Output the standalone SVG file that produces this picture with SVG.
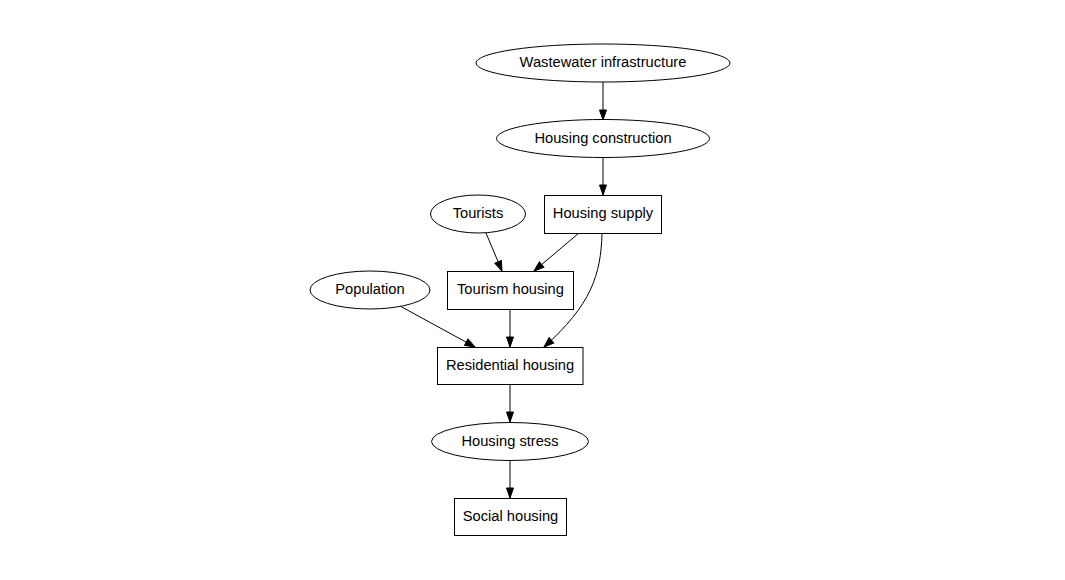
<svg xmlns="http://www.w3.org/2000/svg" width="1065" height="580" viewBox="0 0 1065 580">
<style>
.n{fill:#fff;stroke:#000;stroke-width:1}
.t{font-family:"Liberation Sans",Arial,sans-serif;font-size:14.7px;text-anchor:middle;dominant-baseline:central;fill:#000}
.e{fill:none;stroke:#000;stroke-width:1;marker-end:url(#a)}
</style>
<defs>
<marker id="a" markerUnits="userSpaceOnUse" markerWidth="10" markerHeight="7" refX="10" refY="3.5" orient="auto" overflow="visible">
<path d="M0,0 L10,3.5 L0,7 z" fill="#000" stroke="#000" stroke-width="1"/>
</marker>
</defs>
<rect width="1065" height="580" fill="#fff"/>
<g id="edges">
<path class="e" d="M603,82 L603,120"/>
<path class="e" d="M603,157 L603,195"/>
<path class="e" d="M486,233 L502,271"/>
<path class="e" d="M579,233 L534,271"/>
<path class="e" d="M602,233 C601,275 591,305 544,347"/>
<path class="e" d="M400,306 L475,347"/>
<path class="e" d="M510,309 L510,347"/>
<path class="e" d="M510,384 L510,422"/>
<path class="e" d="M510,460 L510,498"/>
</g>
<g id="wastewater"><ellipse class="n" cx="603" cy="63" rx="127" ry="19"/><text class="t" x="603" y="62">Wastewater infrastructure</text></g>
<g id="construction"><ellipse class="n" cx="603" cy="138.5" rx="106.5" ry="19"/><text class="t" x="603" y="137.5">Housing construction</text></g>
<g id="tourists"><ellipse class="n" cx="478" cy="214" rx="47.5" ry="19"/><text class="t" x="478" y="213">Tourists</text></g>
<g id="supply"><rect class="n" x="544.5" y="195.5" width="117" height="38"/><text class="t" x="603" y="213">Housing supply</text></g>
<g id="population"><ellipse class="n" cx="370" cy="290" rx="60" ry="19"/><text class="t" x="370" y="289">Population</text></g>
<g id="tourism"><rect class="n" x="447.5" y="271.5" width="126" height="38"/><text class="t" x="510.5" y="289">Tourism housing</text></g>
<g id="residential"><rect class="n" x="437.5" y="347.5" width="145.5" height="37"/><text class="t" x="510" y="364.5">Residential housing</text></g>
<g id="stress"><ellipse class="n" cx="510" cy="441.5" rx="78.5" ry="19"/><text class="t" x="510" y="440.5">Housing stress</text></g>
<g id="social"><rect class="n" x="454.5" y="498.5" width="112" height="37"/><text class="t" x="510.5" y="516">Social housing</text></g>
</svg>
